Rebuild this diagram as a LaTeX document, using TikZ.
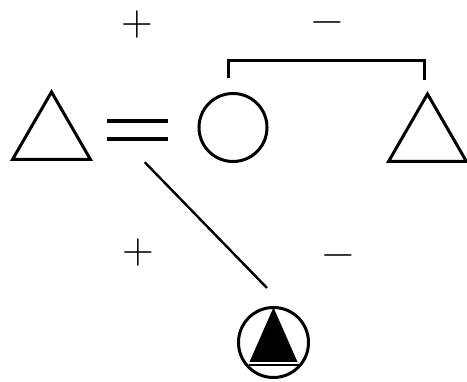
\documentclass[tikz,border=0pt]{standalone}
\usetikzlibrary{shapes.geometric, calc}

\begin{document}
\begin{tikzpicture}[x=1pt, y=1pt,
    male/.style={draw, regular polygon, regular polygon sides=3, minimum size=90pt,
      inner sep=0pt, outer sep=0pt, line width=3pt},
    female/.style={draw, circle, minimum size=68pt, inner sep=0pt, outer sep=0pt,
      line width=3pt},
    sign/.style={inner sep=0pt, anchor=base, text height=20pt, text depth=0pt,
      font=\fontsize{44}{44}\selectfont}]
  \useasboundingbox (0,0) rectangle (467,382);

  % husband, wife, wife's brother
  \node[male] (hus) at (51.5,245) {};
  \node[female] (wife) at (233,254.5) {};
  \node[male] (bro) at (427.5,243) {};
  % child
  \node[female, minimum size=70pt] (ego) at (273.5,39.5) {};
  \fill ($(ego.center)+(0,35)$) -- ($(ego.center)+(-24,-19.5)$)
    -- ($(ego.center)+(24,-19.5)$) -- cycle;
  \draw[line width=1.8pt] ($(ego.center)+(-25,-22.5)$) -- ($(ego.center)+(25,-22.5)$);

  % marriage
  \coordinate (mar) at ($(hus.center)!0.5!(wife.center)+(-4.5,2)$);
  \draw[line width=3.5pt] ($(mar)+(-30.5,9)$) -- ($(mar)+(30.5,9)$);
  \draw[line width=3.5pt] ($(mar)+(-30.5,-9)$) -- ($(mar)+(30.5,-9)$);

  % siblings
  \draw[line width=3pt] ([xshift=-5pt,yshift=15pt]wife.north)
    |- ([xshift=-3.5pt,yshift=33pt]bro.north) -- ([xshift=-3.5pt,yshift=14pt]bro.north);

  % descent
  \draw[line width=2.4pt] ($(mar)+(7,-32)$) -- ($(ego.north)+(-6.5,19.5)$);

  % signs
  \node[sign] (p1) at (137.5,346) {+};
  \node[sign] (m1) at (327,348) {−};
  \node[sign] (p2) at (138.5,118.5) {+};
  \node[sign] (m2) at (338,115) {−};
\end{tikzpicture}
\end{document}
